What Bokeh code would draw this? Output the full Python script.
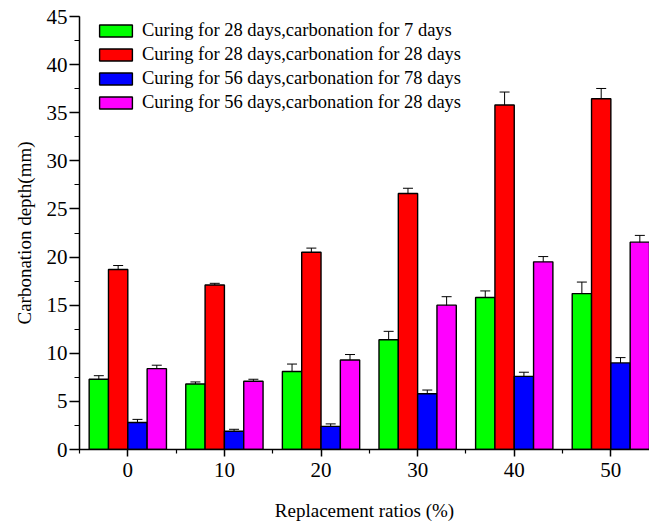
from bokeh.plotting import figure
from bokeh.models import ColumnDataSource, Range1d, FixedTicker, SingleIntervalTicker, Whisker, TeeHead
from bokeh.transform import dodge
from bokeh.embed import file_html
from bokeh.resources import INLINE

ratios = [0, 10, 20, 30, 40, 50]
series_names = [
    "Curing for 28 days,carbonation for 7 days",
    "Curing for 28 days,carbonation for 28 days",
    "Curing for 56 days,carbonation for 78 days",
    "Curing for 56 days,carbonation for 28 days",
]
c28_7 = [7.3, 6.8, 8.1, 11.4, 15.8, 16.2]
c28_7_err = [0.37, 0.22, 0.78, 0.88, 0.68, 1.2]
c28_28 = [18.7, 17.1, 20.5, 26.6, 35.8, 36.45]
c28_28_err = [0.42, 0.17, 0.43, 0.55, 1.35, 1.07]
c56_78 = [2.8, 1.9, 2.4, 5.8, 7.6, 9.0]
c56_78_err = [0.33, 0.2, 0.26, 0.38, 0.43, 0.55]
c56_28 = [8.4, 7.1, 9.3, 15.0, 19.5, 21.55]
c56_28_err = [0.36, 0.2, 0.57, 0.88, 0.55, 0.7]
colors = ["#00ff00", "#ff0000", "#0000ff", "#ff00ff"]
offsets = [-3, -1, 1, 3]
x_minor = [-5, 5, 15, 25, 35, 45, 55]

FONT = "Liberation Serif"
W, H = 649, 524
FL, FT, FB = 79, 16, 75
FW = W - FL
FH = H - FT - FB

p = figure(width=W, height=H, output_backend="svg", toolbar_location=None,
           x_range=Range1d(-5, 54), y_range=Range1d(0, 45),
           min_border_left=FL, min_border_right=0, min_border_top=FT, min_border_bottom=FB)
p.outline_line_color = None
p.xgrid.visible = False
p.ygrid.visible = False
p.background_fill_color = "white"

vals = [c28_7, c28_28, c56_78, c56_28]
errs = [c28_7_err, c28_28_err, c56_78_err, c56_28_err]
for name, v, e, col, off in zip(series_names, vals, errs, colors, offsets):
    src = ColumnDataSource(dict(x=ratios, top=v,
                                upper=[a + b for a, b in zip(v, e)],
                                lower=[a - b for a, b in zip(v, e)]))
    p.vbar(x=dodge("x", off), top="top", width=2, bottom=0, source=src,
           fill_color=col, line_color="black", line_width=1.4, legend_label=name)
    w = Whisker(base=dodge("x", off), upper="upper", lower="lower", source=src,
                line_color="black", line_width=1,
                upper_head=TeeHead(size=10, line_color="black", line_width=1),
                lower_head=TeeHead(size=10, line_color="black", line_width=1))
    p.add_layout(w)

for ax in (p.xaxis[0], p.yaxis[0]):
    ax.axis_line_color = "black"
    ax.axis_line_width = 1.5
    ax.major_tick_line_width = 1.5
    ax.minor_tick_line_width = 1.2
    ax.major_tick_in = 0
    ax.minor_tick_in = 0
    ax.major_label_text_font = FONT
    ax.major_label_text_font_size = "21px"
    ax.major_label_text_color = "black"
    ax.axis_label_text_font = FONT
    ax.axis_label_text_font_size = "19px"
    ax.axis_label_text_font_style = "normal"
    ax.axis_label_text_color = "black"

xa = p.xaxis[0]
xa.ticker = FixedTicker(ticks=ratios, minor_ticks=x_minor)
xa.major_tick_out = 7
xa.minor_tick_out = 4
xa.major_label_standoff = 6
xa.axis_label = "Replacement ratios (%)"
xa.axis_label_standoff = 20

ya = p.yaxis[0]
ya.ticker = SingleIntervalTicker(interval=5, num_minor_ticks=2)
ya.major_tick_out = 10
ya.minor_tick_out = 5
ya.major_label_standoff = 2
ya.axis_label = "Carbonation depth(mm)"
ya.axis_label_standoff = 9

lg = p.legend[0]
lg.location = (16, FH - 4 - 93)
lg.padding = 0
lg.margin = 0
lg.spacing = 3
lg.border_line_color = None
lg.background_fill_alpha = 0
lg.glyph_width = 41
lg.glyph_height = 15
lg.label_height = 21
lg.label_standoff = 6
lg.label_text_font = FONT
lg.label_text_font_size = "18.5px"
lg.label_text_color = "black"

open("out.html", "w").write(file_html(p, INLINE))
